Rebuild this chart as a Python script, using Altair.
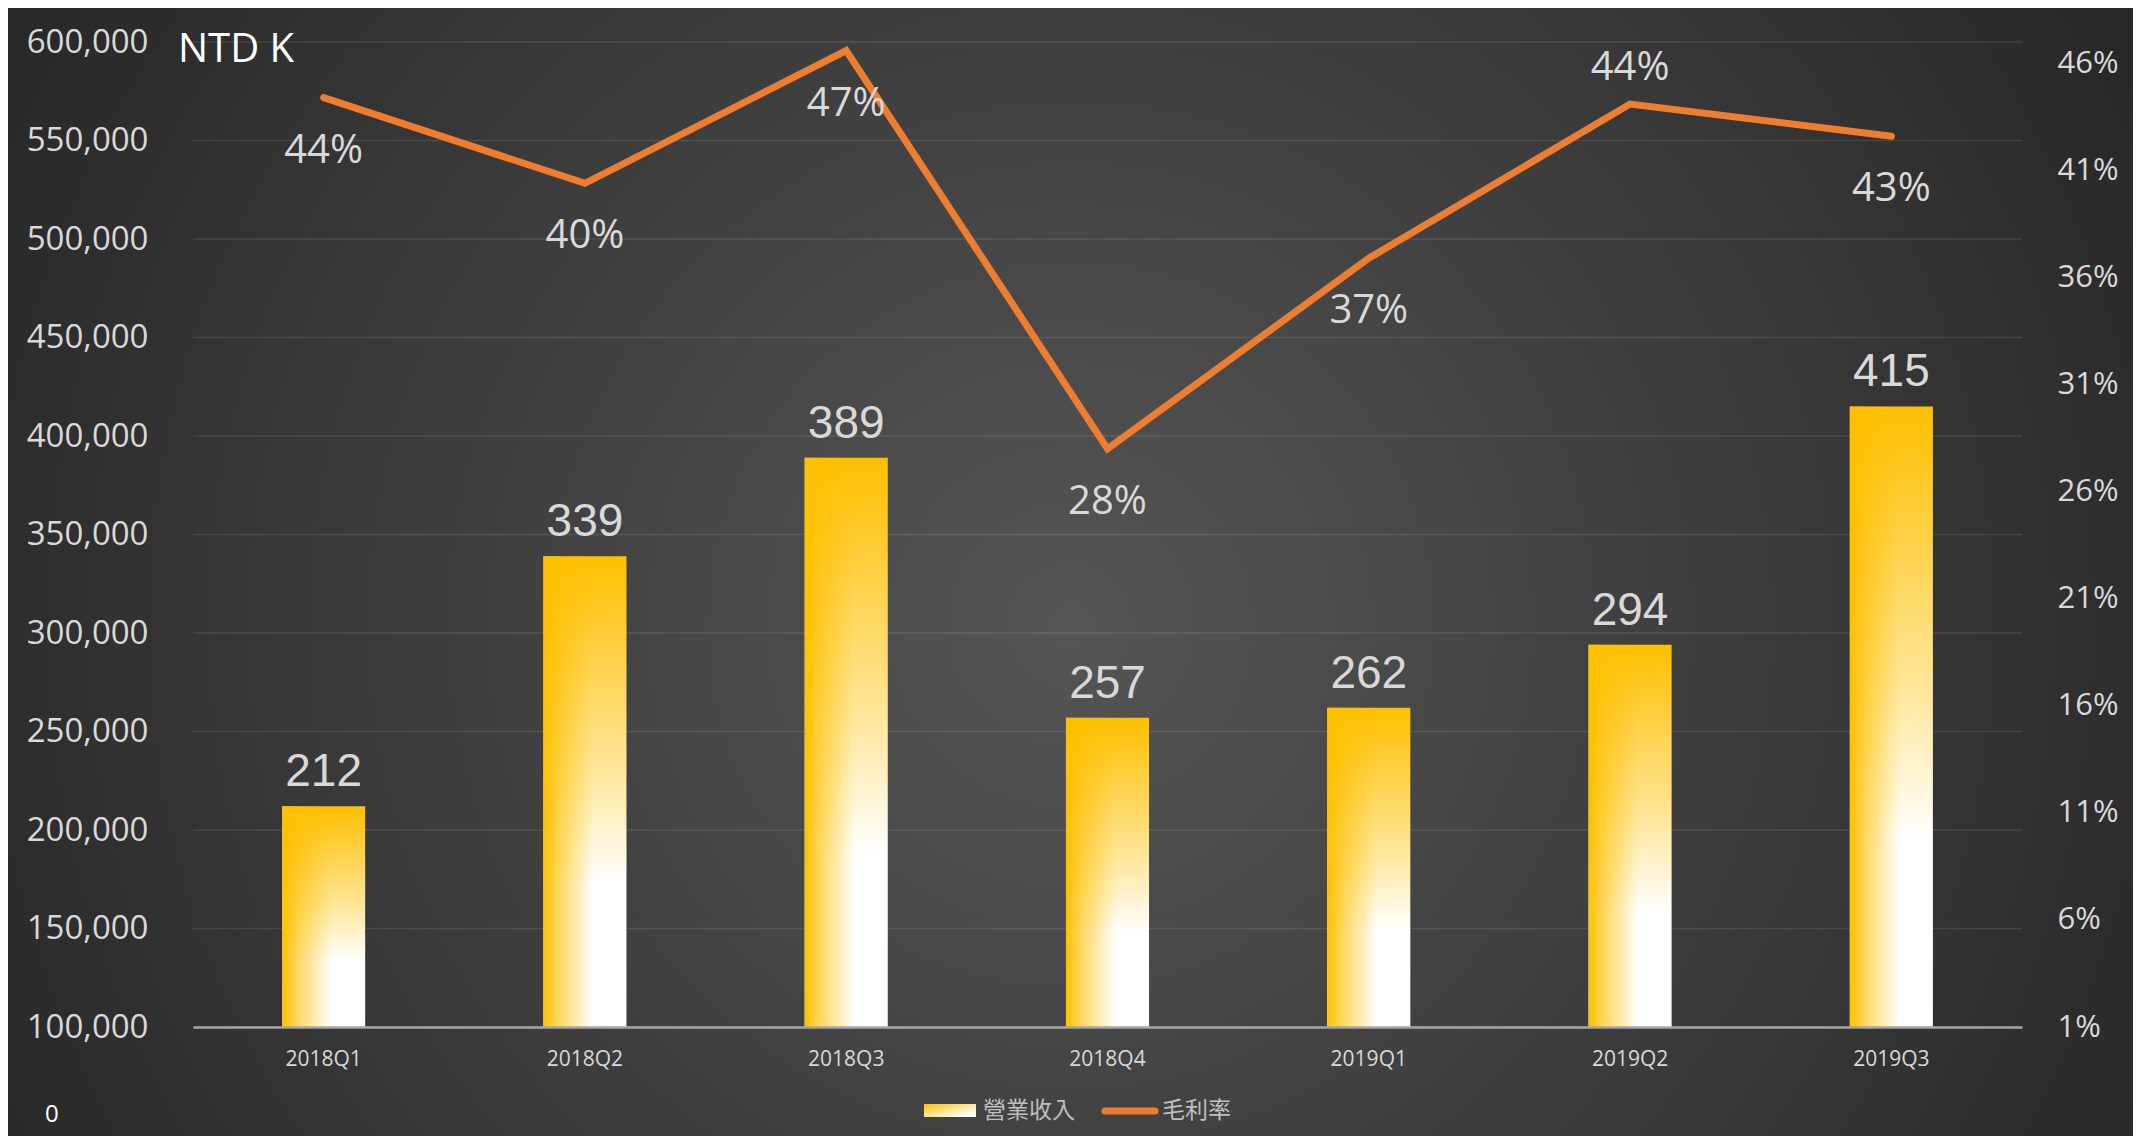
import altair as alt
import pandas as pd

# ---- data ----
quarters = ["2018Q1", "2018Q2", "2018Q3", "2018Q4", "2019Q1", "2019Q2", "2019Q3"]
revenue_k = [212, 339, 389, 257, 262, 294, 415]          # 營業收入 (NTD K, thousands)
margin = [0.444, 0.404, 0.466, 0.280, 0.369, 0.441, 0.426]  # 毛利率
left_ticks = [100000, 150000, 200000, 250000, 300000, 350000,
              400000, 450000, 500000, 550000, 600000]
right_ticks = [0.01, 0.06, 0.11, 0.16, 0.21, 0.26, 0.31, 0.36, 0.41, 0.46]
legend_labels = ["營業收入", "毛利率"]
unit_label = "NTD K"
corner_label = "0"

W, H = 1829, 985
PAD = {"left": 185, "top": 34, "right": 111, "bottom": 109}

df = pd.DataFrame({
    "quarter": quarters,
    "revenue_k": revenue_k,
    "revenue": [v * 1000 for v in revenue_k],
    "margin": margin,
})
grid_df = pd.DataFrame({"revenue": left_ticks})
one = pd.DataFrame({"a": [0]})

FONT = "Open Sans"
CJK = "Noto Sans CJK TC"
LABEL = "#d9d9d9"
ORANGE = "#ED7D31"

x = alt.X(
    "quarter:N", sort=quarters,
    scale=alt.Scale(paddingInner=0.682, paddingOuter=0.341),
    axis=alt.Axis(title=None, labelAngle=0, ticks=False, tickSize=0, labelPadding=21,
                  labelFont=FONT, labelFontSize=21, labelColor=LABEL,
                  domainColor="#a6a6a6", domainWidth=2.5, grid=False, zindex=1),
)

y_left = alt.Y(
    "revenue:Q",
    scale=alt.Scale(domain=[100000, 600000], zero=False, nice=False),
    axis=alt.Axis(title=None, values=left_ticks, orient="left",
                  labelExpr="format(datum.value, ',')",
                  labelFont=FONT, labelFontSize=33, labelColor=LABEL, labelPadding=45,
                  ticks=False, tickSize=0, domain=False, grid=False, zindex=1),
)

y_right = alt.Y(
    "margin:Q",
    scale=alt.Scale(domain=[0.01, 0.47], zero=False, nice=False),
    axis=alt.Axis(title=None, values=right_ticks, orient="right",
                  labelExpr="format(datum.value, '.0%')",
                  labelFont=FONT, labelFontSize=31, labelColor=LABEL, labelAlign="left",
                  labelPadding=35, ticks=False, tickSize=0, domain=False, grid=False,
                  zindex=1),
)

# ---- gradients ----
bar_vertical = alt.LinearGradient(
    gradient="linear", x1=0, y1=0, x2=0, y2=1,
    stops=[alt.GradientStop(offset=0, color="#FFC000"),
           alt.GradientStop(offset=0.08, color="#FFC61A"),
           alt.GradientStop(offset=0.45, color="#FFE699"),
           alt.GradientStop(offset=0.70, color="#FFFFFF"),
           alt.GradientStop(offset=1, color="#FFFFFF")],
)
bar_side = alt.LinearGradient(
    gradient="linear", x1=0, y1=0, x2=1, y2=0,
    stops=[alt.GradientStop(offset=0, color="rgba(255,192,0,1)"),
           alt.GradientStop(offset=0.2, color="rgba(255,192,0,0.6)"),
           alt.GradientStop(offset=0.6, color="rgba(255,192,0,0)"),
           alt.GradientStop(offset=1, color="rgba(255,192,0,0)")],
)
swatch_grad = alt.LinearGradient(
    gradient="linear", x1=0, y1=0, x2=1, y2=1,
    stops=[alt.GradientStop(offset=0, color="#FFC000"),
           alt.GradientStop(offset=0.5, color="#FFE699"),
           alt.GradientStop(offset=0.85, color="#FFFFFF"),
           alt.GradientStop(offset=1, color="#FFFFFF")],
)
bg_grad = alt.RadialGradient(
    gradient="radial", x1=0.5, y1=0.525, r1=0, x2=0.5, y2=0.525, r2=0.565,
    stops=[alt.GradientStop(offset=0, color="#555555"),
           alt.GradientStop(offset=1, color="#282828")],
)

# ---- background ----
bg = alt.Chart(one).mark_rect(color=bg_grad).encode(
    x=alt.value(-PAD["left"]), x2=alt.value(W + PAD["right"]),
    y=alt.value(-PAD["top"]), y2=alt.value(H + PAD["bottom"]),
)

# ---- gridlines + bars (left axis) ----
grid = alt.Chart(grid_df).mark_rule(color="#ffffff", opacity=0.1, strokeWidth=1.5).encode(
    y=y_left)
base = alt.Chart(df)
bars = base.mark_bar(color=bar_vertical).encode(x=x, y=y_left, y2=alt.datum(100000))
bars_side = base.mark_bar(color=bar_side).encode(x=x, y=y_left, y2=alt.datum(100000))
bar_text = base.mark_text(font="Liberation Sans", fontSize=46, color=LABEL,
                          baseline="alphabetic", dy=-20).encode(
    x=x, y=y_left, text=alt.Text("revenue_k:Q"))
left_layer = alt.layer(grid, bars, bars_side, bar_text)

# ---- line (right axis) ----
line = base.mark_line(color=ORANGE, strokeWidth=7, strokeCap="round").encode(x=x, y=y_right)
line_text_below = base.mark_text(font=FONT, fontSize=40, color=LABEL,
                                 baseline="alphabetic", dy=65).encode(
    x=x, y=y_right, text=alt.Text("margin:Q", format=".0%")
).transform_filter(alt.datum.quarter != "2019Q2")
line_text_above = base.mark_text(font=FONT, fontSize=40, color=LABEL,
                                 baseline="alphabetic", dy=-24).encode(
    x=x, y=y_right, text=alt.Text("margin:Q", format=".0%")
).transform_filter(alt.datum.quarter == "2019Q2")
right_layer = alt.layer(line, line_text_below, line_text_above)

# ---- decorations: unit label, stray 0, legend ----
unit = alt.Chart(one).mark_text(font=FONT, fontSize=40, color="#ffffff",
                                align="left", baseline="alphabetic").encode(
    x=alt.value(-15), y=alt.value(20), text=alt.value(unit_label))
corner = alt.Chart(one).mark_text(font=FONT, fontSize=24, color="#ffffff",
                                  align="left", baseline="alphabetic").encode(
    x=alt.value(-148), y=alt.value(1080), text=alt.value(corner_label))
swatch = alt.Chart(one).mark_rect(color=swatch_grad).encode(
    x=alt.value(731), x2=alt.value(783), y=alt.value(1062), y2=alt.value(1075))
leg_text1 = alt.Chart(one).mark_text(font=CJK, fontSize=23, color="#bfbfbf",
                                     align="left", baseline="middle").encode(
    x=alt.value(790), y=alt.value(1069), text=alt.value(legend_labels[0]))
leg_line = alt.Chart(one).mark_rule(color=ORANGE, strokeWidth=7, strokeCap="round").encode(
    x=alt.value(912), x2=alt.value(962), y=alt.value(1069))
leg_text2 = alt.Chart(one).mark_text(font=CJK, fontSize=23, color="#bfbfbf",
                                     align="left", baseline="middle").encode(
    x=alt.value(969), y=alt.value(1069), text=alt.value(legend_labels[1]))

chart = alt.layer(
    bg, left_layer, right_layer, unit, corner, swatch, leg_text1, leg_line, leg_text2
).resolve_scale(y="independent").properties(
    width=W, height=H, padding=PAD,
    autosize=alt.AutoSizeParams(type="none"),
    background="#2e2e2e",
).configure_view(stroke=None)

chart.save("out.html", embed_options={"renderer": "svg", "actions": False})
